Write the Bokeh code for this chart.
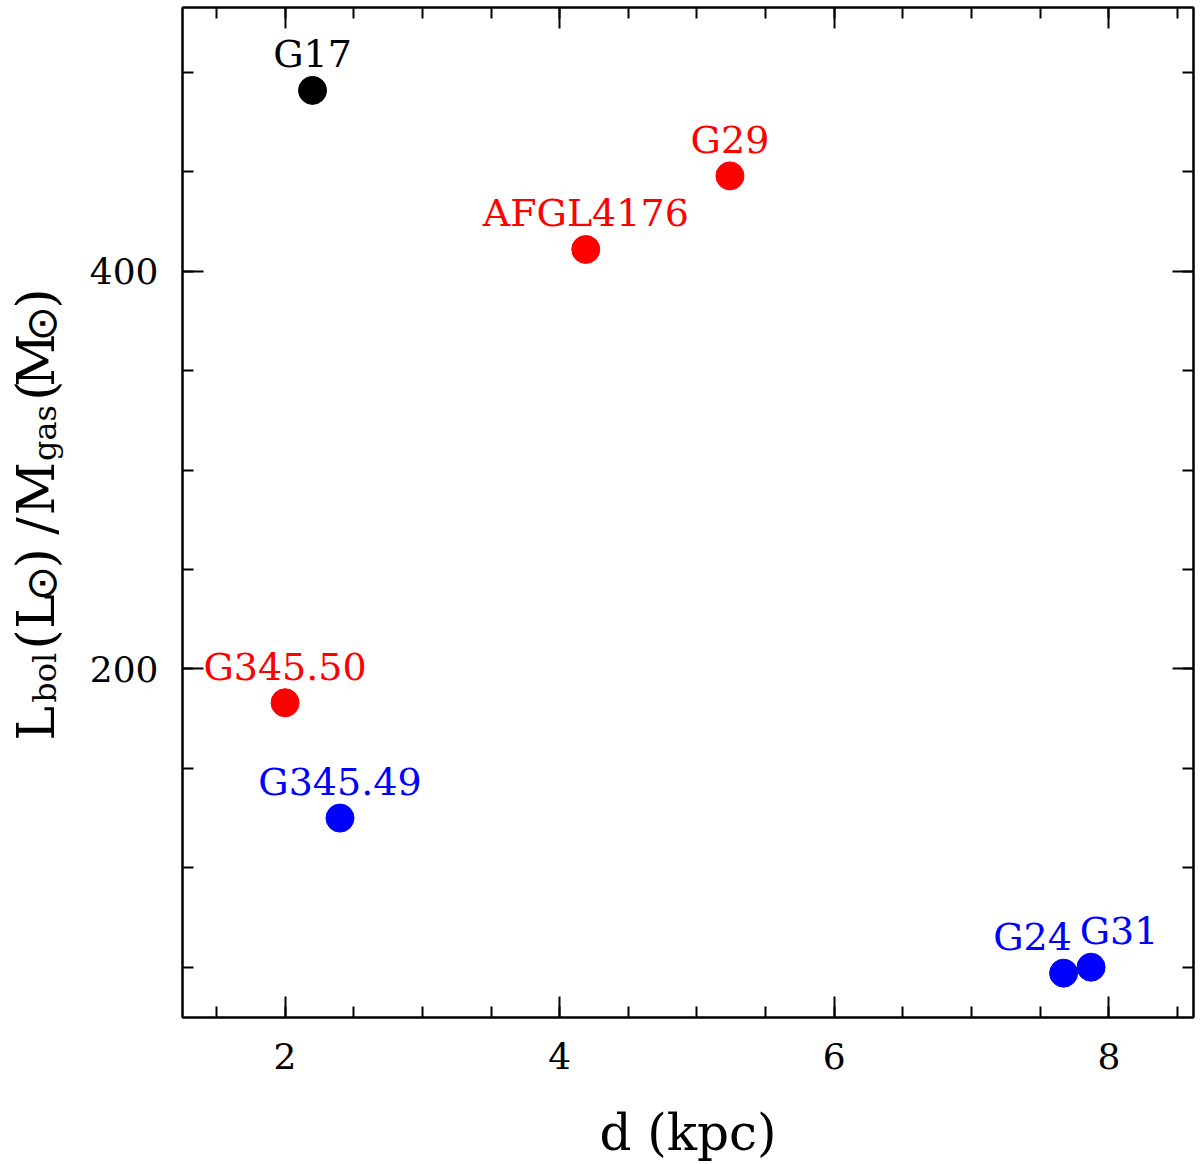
import math
from bokeh.plotting import figure
from bokeh.layouts import row
from bokeh.models import ColumnDataSource, Range1d, LinearAxis, SingleIntervalTicker
from bokeh.core.properties import value
from bokeh.embed import file_html
from bokeh.resources import INLINE

# ---- data ----
names = ["G17", "G29", "AFGL4176", "G345.50", "G345.49", "G24", "G31"]
distance_kpc = [2.2, 5.24, 4.19, 2.0, 2.4, 7.67, 7.87]
lbol_over_mgas = [491, 448, 411, 183, 125, 47, 50]
x_ticks_interval = 2
y_ticks_interval = 200

# ---- styles ----
colors = ["black", "red", "red", "red", "blue", "blue", "blue"]
label_dx = [0, 0, 0, 0, 0, -31, 28]

FONT = "DejaVu Serif"
W = 1196
H = 1164
TITLE_W = 80
TOP = 7          # frame top on the page
BOTTOM = 1018    # frame bottom on the page

src = ColumnDataSource(dict(x=distance_kpc, y=lbol_over_mgas, name=names,
                            color=colors, dx=label_dx))

p = figure(width=W - TITLE_W, height=H,
           x_range=Range1d(1.253, 8.616), y_range=Range1d(24.7, 532.7),
           output_backend="svg", toolbar_location=None,
           min_border_left=182 - TITLE_W, min_border_right=W - 1193,
           min_border_top=TOP, min_border_bottom=H - BOTTOM,
           x_axis_location=None, y_axis_location=None)
p.title = None
p.grid.visible = False
p.background_fill_color = "white"
p.border_fill_color = "white"
p.outline_line_color = "black"
p.outline_line_width = 2


def make_axis(interval, show_labels):
    ax = LinearAxis(ticker=SingleIntervalTicker(interval=interval, num_minor_ticks=4))
    ax.axis_line_color = "black"
    ax.axis_line_width = 2
    ax.major_tick_in = 21
    ax.major_tick_out = 0
    ax.minor_tick_in = 11
    ax.minor_tick_out = 0
    ax.major_tick_line_width = 2
    ax.minor_tick_line_width = 2
    ax.major_tick_line_color = "black"
    ax.minor_tick_line_color = "black"
    if show_labels:
        ax.major_label_text_font = FONT
        ax.major_label_text_font_size = "36px"
        ax.major_label_text_color = "black"
    else:
        ax.major_label_text_font_size = "0px"
        ax.major_label_text_color = None
        ax.major_label_standoff = 0
    return ax


xb = make_axis(x_ticks_interval, True)
xb.major_label_standoff = 25
xb.axis_label = "d (kpc)"
xb.axis_label_text_font = FONT
xb.axis_label_text_font_size = "50px"
xb.axis_label_text_font_style = "normal"
xb.axis_label_text_color = "black"
xb.axis_label_standoff = 32
p.add_layout(xb, "below")

p.add_layout(make_axis(x_ticks_interval, False), "above")

yl = make_axis(y_ticks_interval, True)
yl.major_label_standoff = 24
p.add_layout(yl, "left")

p.add_layout(make_axis(y_ticks_interval, False), "right")

p.scatter("x", "y", source=src, size=28, color="color", line_color="color")
p.text("x", "y", text="name", source=src, x_offset="dx", y_offset=-36,
       text_align="center", text_baseline="alphabetic",
       text_font=value(FONT), text_font_size="38px", text_color="color")

# ---- y-axis title (with subscripts) drawn in a narrow side panel ----
t = figure(width=TITLE_W, height=H,
           x_range=Range1d(0, TITLE_W), y_range=Range1d(0, BOTTOM - TOP),
           output_backend="svg", toolbar_location=None,
           min_border_left=0, min_border_right=0,
           min_border_top=TOP, min_border_bottom=H - BOTTOM,
           x_axis_location=None, y_axis_location=None)
t.title = None
t.grid.visible = False
t.outline_line_color = None
t.background_fill_color = "white"
t.border_fill_color = "white"

# (text, centre y on the page)
big = [("L", 723.5), ("(", 639.5), ("L", 611.5), (")", 558.5), ("/", 526.0),
       ("M", 488.5), ("(", 390.5), ("M", 360.0), (")", 298.5)]
sub = [("bol", 678.0), ("gas", 433.0)]
sun = [("\u2299", 583.5), ("\u2299", 323.5)]

t.text(x=[35] * len(big), y=[BOTTOM - py for _, py in big], text=[s for s, _ in big],
       angle=math.pi / 2, text_align="center", text_baseline="alphabetic",
       text_font=value(FONT), text_font_size="52px", text_color="black")
t.text(x=[44.5] * len(sub), y=[BOTTOM - py for _, py in sub], text=[s for s, _ in sub],
       angle=math.pi / 2, text_align="center", text_baseline="alphabetic",
       text_font=value(FONT), text_font_size="32px", text_color="black")
t.text(x=[41] * len(sun), y=[BOTTOM - py for _, py in sun], text=[s for s, _ in sun],
       angle=math.pi / 2, text_align="center", text_baseline="middle",
       text_font=value("DejaVu Sans"), text_font_size="42px", text_color="black")

layout = row(t, p)
open("out.html", "w").write(file_html(layout, INLINE))
